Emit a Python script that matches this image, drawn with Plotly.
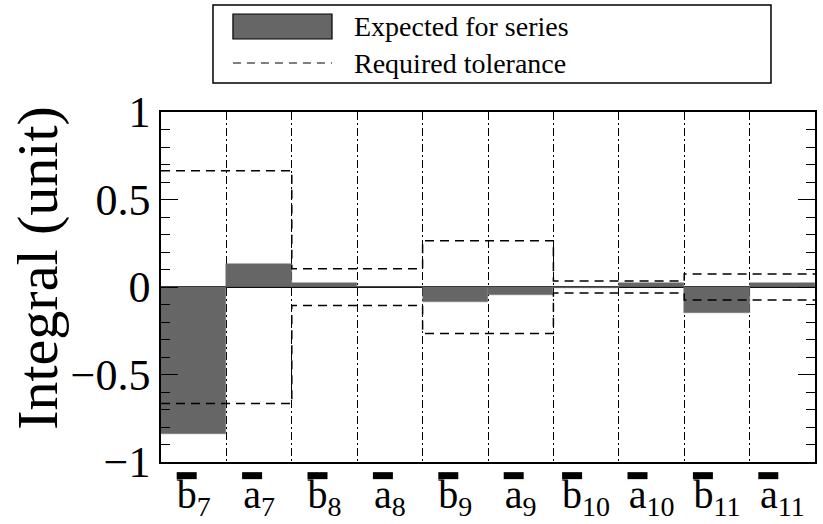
import plotly.graph_objects as go

# ---- data ----
letters = ["b", "a", "b", "a", "b", "a", "b", "a", "b", "a"]
subs = ["7", "7", "8", "8", "9", "9", "10", "10", "11", "11"]
expected = [-0.84, 0.13, 0.025, 0.0, -0.083, -0.045, -0.004, 0.025, -0.146, 0.025]
tolerance = [0.665, 0.665, 0.105, 0.105, 0.265, 0.265, 0.034, 0.034, 0.074, 0.074]
y_ticks = [-1, -0.5, 0, 0.5, 1]

n = len(letters)
xs = list(range(n))
ticktext = [f"{l}<sub>{s}</sub>" for l, s in zip(letters, subs)]
edges = [i - 0.5 for i in range(n + 1)]

SERIF = "Liberation Serif"

fig = go.Figure()
fig.add_trace(go.Bar(
    x=xs, y=expected, width=1.0,
    marker=dict(color="#666666", line=dict(color="#777777", width=0.5)),
    showlegend=False,
))
for sign in (1, -1):
    fig.add_trace(go.Scatter(
        x=edges, y=[sign * t for t in tolerance] + [sign * tolerance[-1]],
        mode="lines", line=dict(color="black", width=1.5, dash="9px,6px", shape="hv"),
        showlegend=False, hoverinfo="skip",
    ))

shapes = []
# overbars above letters of x labels
for i, s in enumerate(subs):
    off = -len(s) * 7.0
    shapes.append(dict(type="rect", xref="x", xsizemode="pixel", xanchor=i,
                       x0=off - 10, x1=off + 10, yref="paper", y0=-0.049, y1=-0.029,
                       fillcolor="black", line=dict(width=0)))
# legend box
shapes.append(dict(type="rect", xref="paper", yref="paper", x0=0.0795, x1=0.9327,
                   y0=1.083, y1=1.306, line=dict(color="black", width=1.5), fillcolor="white"))
shapes.append(dict(type="rect", xref="paper", yref="paper", x0=0.110, x1=0.2615,
                   y0=1.2086, y1=1.28, line=dict(color="black", width=1.2), fillcolor="#666666"))
shapes.append(dict(type="line", xref="paper", yref="paper", x0=0.110, x1=0.2615,
                   y0=1.14, y1=1.14, line=dict(color="black", width=1.2, dash="8px,6px")))

annotations = [
    dict(text="Expected for series", xref="paper", yref="paper", x=0.292, y=1.2457,
         xanchor="left", yanchor="middle", showarrow=False,
         font=dict(family=SERIF, size=28, color="black")),
    dict(text="Required tolerance", xref="paper", yref="paper", x=0.292, y=1.14,
         xanchor="left", yanchor="middle", showarrow=False,
         font=dict(family=SERIF, size=28, color="black")),
    dict(text="Integral (unit)", xref="paper", yref="paper", x=-0.19, y=0.554,
         xanchor="center", yanchor="middle", textangle=-90, showarrow=False,
         font=dict(family=SERIF, size=58, color="black")),
]

fig.update_layout(
    width=823, height=524,
    margin=dict(l=161, r=8, t=112, b=62),
    paper_bgcolor="white", plot_bgcolor="white",
    font=dict(family=SERIF, color="black"),
    bargap=0, showlegend=False,
    shapes=shapes, annotations=annotations,
    xaxis=dict(
        range=[-0.5, n - 0.5], tickmode="array", tickvals=xs, ticktext=ticktext,
        ticks="", showgrid=False, zeroline=False, automargin=False,
        ticklabelstandoff=-4,
        showline=True, linecolor="black", linewidth=1.5, mirror=True,
        tickfont=dict(family=SERIF, size=40, color="black"),
        minor=dict(tickvals=[e for e in edges[1:-1]], showgrid=True,
                   griddash="8px,3px,2px,3px", gridcolor="black", gridwidth=1.2, ticks=""),
    ),
    yaxis=dict(
        range=[-1, 1], tickmode="array", tickvals=y_ticks,
        ticktext=["\u22121", "\u22120.5", "0", "0.5", "1"],
        ticks="inside", ticklen=17, tickwidth=1.3, tickcolor="black", automargin=False,
        showgrid=False, zeroline=True, zerolinecolor="black", zerolinewidth=2,
        showline=True, linecolor="black", linewidth=1.5, mirror="ticks",
        tickfont=dict(family=SERIF, size=44, color="black"),
        minor=dict(dtick=0.1, tick0=0, ticks="inside", ticklen=9, tickwidth=1.3,
                   tickcolor="black", showgrid=False),
    ),
)

fig.write_html("out.html")
